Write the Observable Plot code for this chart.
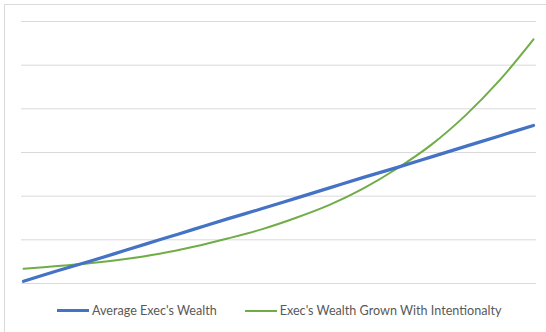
<!DOCTYPE html>
<html>
<head>
<meta charset="utf-8">
<script src="https://cdn.jsdelivr.net/npm/d3@7"></script>
<script src="https://cdn.jsdelivr.net/npm/@observablehq/plot@0.6"></script>
<style>
  html, body { margin: 0; padding: 0; background: #fff; width: 546px; height: 332px; overflow: hidden; }
  #frame { position: absolute; left: 4px; top: 4px; width: 600px; height: 400px; border: 1px solid #d9d9d9; box-sizing: border-box; }
  #chart { position: absolute; left: 0; top: 0; }
  #legend { position: absolute; left: 57px; top: 303px; display: flex; align-items: center; font-family: Lato, "Open Sans", sans-serif; font-size: 12.6px; color: #595959; white-space: nowrap; }
  .sw { display: inline-block; width: 32px; margin-right: 3px; }
  .item { display: flex; align-items: center; }
</style>
</head>
<body>
<div id="frame"></div>
<div id="chart"></div>
<div id="legend"></div>
<script>
const periods = [0, 1, 2, 3, 4, 5, 6, 7, 8, 9, 10, 11, 12, 13, 14, 15];
const averageWealth = [5, 29, 52, 76, 100, 124, 148, 171, 195, 219, 243, 266, 290, 314, 338, 362];
const intentionalWealth = [34, 40, 47, 56, 68, 84, 103, 124, 150, 180, 218, 264, 318, 385, 465, 559];
const gridValues = [0, 100, 200, 300, 400, 500, 600];
const seriesNames = ["Average Exec's Wealth", "Exec's Wealth Grown With Intentionalty"];
const seriesColors = ["#4472C4", "#70AD47"];
const seriesWidths = [3.2, 2];

const rows = [];
periods.forEach((p, i) => {
  rows.push({period: p, value: averageWealth[i], series: seriesNames[0]});
  rows.push({period: p, value: intentionalWealth[i], series: seriesNames[1]});
});

const chart = Plot.plot({
  width: 546,
  height: 290,
  marginTop: 21,
  marginBottom: 7,
  marginLeft: 23,
  marginRight: 13,
  x: {domain: [0, 15], axis: null},
  y: {domain: [0, 600], axis: null},
  marks: [
    Plot.ruleY(gridValues, {stroke: "#d9d9d9", strokeWidth: 1, insetLeft: -2, insetRight: -3}),
    Plot.line(rows.filter(d => d.series === seriesNames[1]), {x: "period", y: "value", stroke: seriesColors[1], strokeWidth: seriesWidths[1], curve: "catmull-rom"}),
    Plot.line(rows.filter(d => d.series === seriesNames[0]), {x: "period", y: "value", stroke: seriesColors[0], strokeWidth: seriesWidths[0], curve: "catmull-rom"})
  ]
});
document.getElementById("chart").appendChild(chart);

const legend = document.getElementById("legend");
seriesNames.forEach((name, i) => {
  const item = document.createElement("div");
  item.className = "item";
  if (i > 0) item.style.marginLeft = "28px";
  const sw = document.createElement("span");
  sw.className = "sw";
  sw.style.height = seriesWidths[i] + "px";
  sw.style.background = seriesColors[i];
  const label = document.createElement("span");
  label.textContent = name;
  item.appendChild(sw);
  item.appendChild(label);
  legend.appendChild(item);
});
</script>
</body>
</html>
